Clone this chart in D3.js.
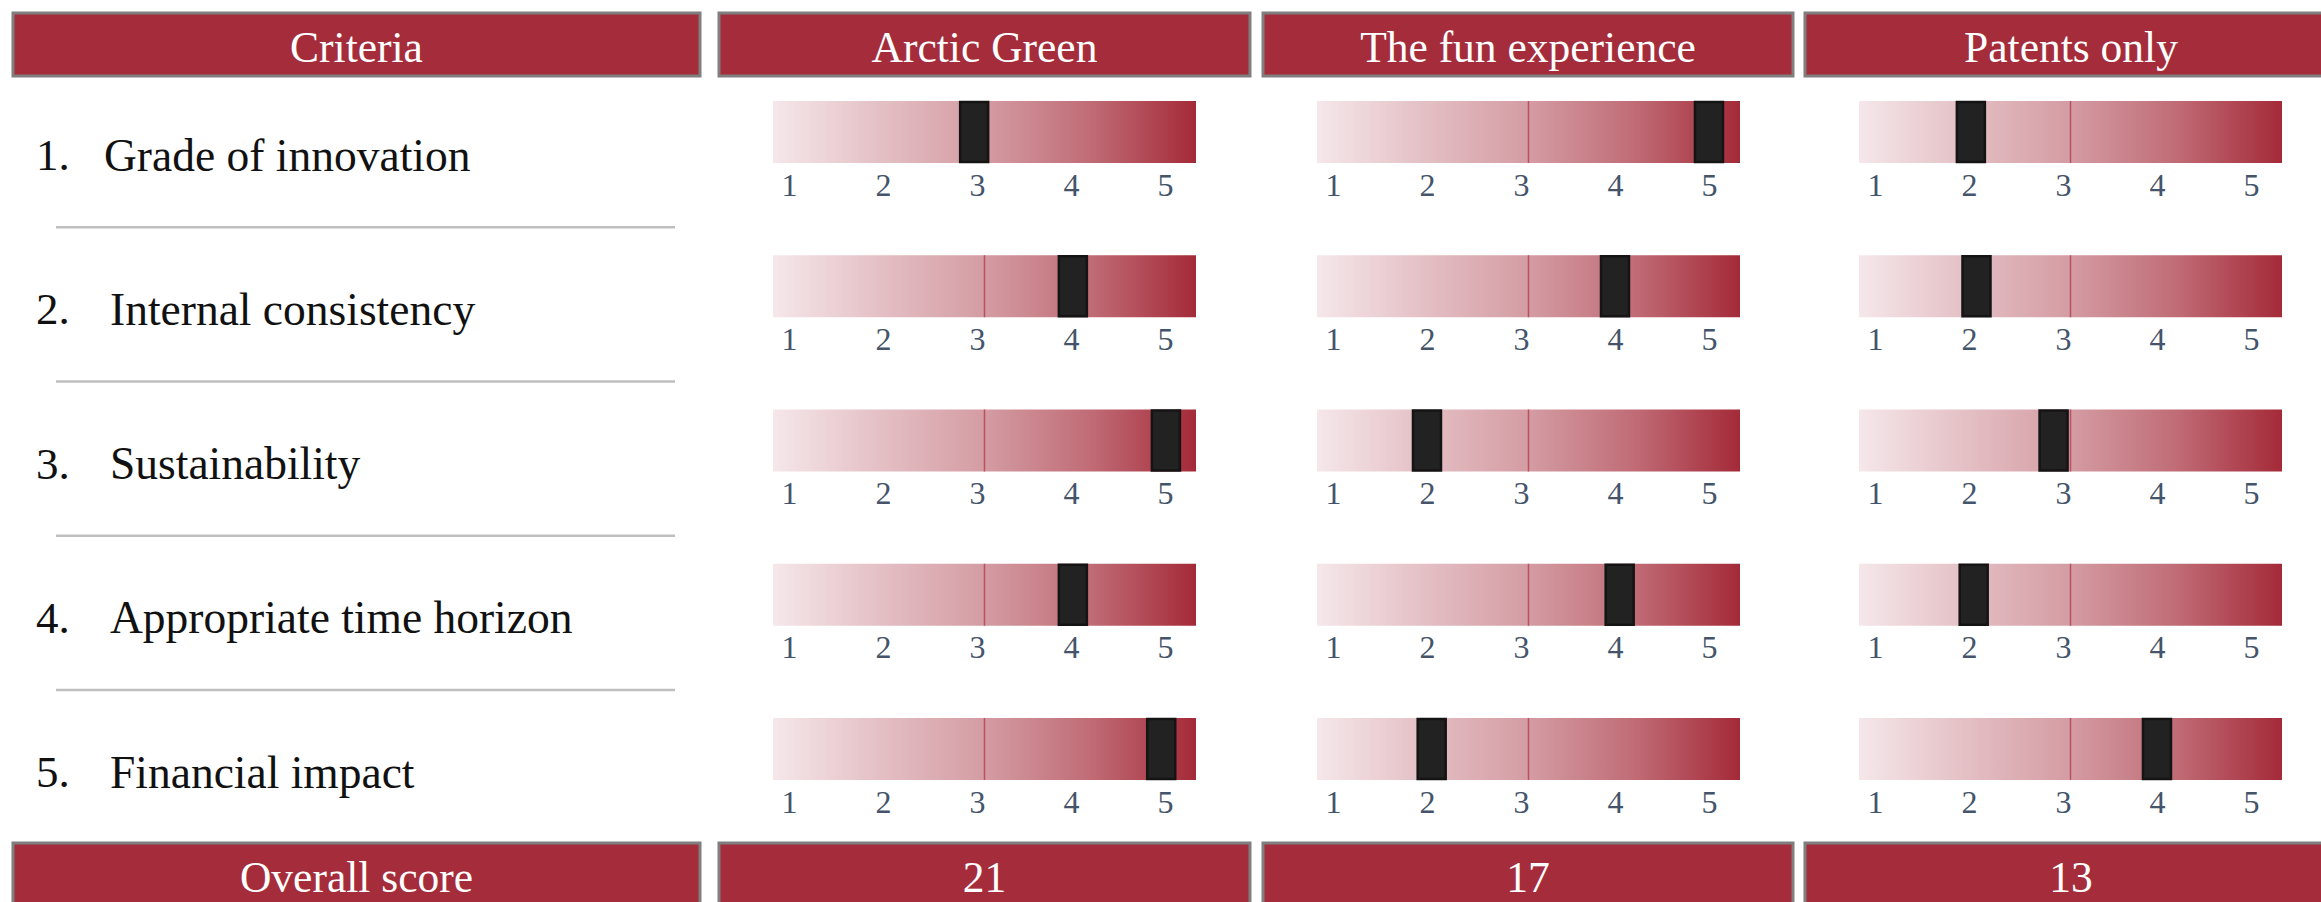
<!DOCTYPE html>
<html>
<head>
<meta charset="utf-8">
<script src="https://cdn.jsdelivr.net/npm/d3@7"></script>
<style>
  html, body { margin: 0; padding: 0; background: #ffffff; }
  svg { display: block; }
</style>
</head>
<body>
<svg id="chart" width="2321" height="902"></svg>
<script>
// ---------- data ----------
const headerLabel = "Criteria";
const footerLabel = "Overall score";
const criteria = ["Grade of innovation", "Internal consistency", "Sustainability", "Appropriate time horizon", "Financial impact"];
const options = ["Arctic Green", "The fun experience", "Patents only"];
const arcticGreen = [2.97, 4.02, 5.01, 4.02, 4.96];
const funExperience = [5.0, 4.0, 2.0, 4.05, 2.05];
const patentsOnly = [2.02, 2.08, 2.9, 2.05, 4.0];
const overallScores = [21, 17, 13];
const tickValues = [1, 2, 3, 4, 5];
const gaugeDomain = [0.83, 5.33];

const seriesValues = [arcticGreen, funExperience, patentsOnly];

// ---------- styling / layout ----------
const W = 2321, H = 902;
const RED = "#A52D3B";
const BORDER = "#7F7F7F";
const FONT = "'Liberation Serif', 'DejaVu Serif', serif";

const svg = d3.select("#chart");

// gradient
const defs = svg.append("defs");
const grad = defs.append("linearGradient").attr("id", "gaugeGrad")
  .attr("x1", "0%").attr("x2", "100%").attr("y1", "0%").attr("y2", "0%");
[[0, "#F5E7EA"], [0.25, "#E4C0C5"], [0.5, "#D49CA3"], [0.75, "#C06C76"], [1, "#A42A38"]]
  .forEach(([o, c]) => grad.append("stop").attr("offset", o).attr("stop-color", c));

// column boxes
const columns = [
  { x0: 13, x1: 700 },
  { x0: 719, x1: 1250 },
  { x0: 1263, x1: 1793 },
  { x0: 1805, x1: 2337 }
];
const headerTop = 13, headerH = 63;
const footerTop = 843;

const topLabels = [headerLabel, ...options];
const bottomLabels = [footerLabel, ...overallScores.map(String)];

function drawBoxes(labels, top, cls) {
  const g = svg.append("g").attr("class", cls);
  const cells = g.selectAll("g").data(labels).join("g");
  cells.append("rect")
    .attr("x", (d, i) => columns[i].x0)
    .attr("y", top)
    .attr("width", (d, i) => columns[i].x1 - columns[i].x0)
    .attr("height", headerH)
    .attr("fill", RED)
    .attr("stroke", BORDER)
    .attr("stroke-width", 3);
  cells.append("text")
    .attr("x", (d, i) => (columns[i].x0 + columns[i].x1) / 2)
    .attr("y", top + headerH / 2 + 2)
    .attr("text-anchor", "middle")
    .attr("dominant-baseline", "central")
    .attr("fill", "#ffffff")
    .style("font-family", FONT)
    .style("font-size", "43.5px")
    .text(d => d);
}
drawBoxes(topLabels, headerTop, "headers");
drawBoxes(bottomLabels, footerTop, "footers");

// row positions
const rowY = d3.scalePoint().domain(criteria).range([101, 718]);
const barH = 62;

// left criteria column
const left = svg.append("g").attr("class", "criteria");
left.selectAll("text.num").data(criteria).join("text")
  .attr("class", "num")
  .attr("x", 36)
  .attr("y", d => rowY(d) + 54)
  .attr("dominant-baseline", "central")
  .attr("fill", "#111")
  .style("font-family", FONT)
  .style("font-size", "45px")
  .text((d, i) => (i + 1) + ".");
left.selectAll("text.lab").data(criteria).join("text")
  .attr("class", "lab")
  .attr("x", (d, i) => i === 0 ? 104 : 110)
  .attr("y", d => rowY(d) + 54)
  .attr("dominant-baseline", "central")
  .attr("fill", "#111")
  .style("font-family", FONT)
  .style("font-size", "45.5px")
  .text(d => d);

// separators between rows
const seps = criteria.slice(0, -1).map((d, i) => (rowY(d) + rowY(criteria[i + 1])) / 2 + 54 - 5);
left.selectAll("line").data(seps).join("line")
  .attr("x1", 56).attr("x2", 675)
  .attr("y1", d => d).attr("y2", d => d)
  .attr("stroke", "#BFBFBF").attr("stroke-width", 2.5);

// gauges
const barInset = 54, barW = 423;
seriesValues.forEach((vals, ci) => {
  const col = columns[ci + 1];
  const bx = col.x0 + barInset;
  const x = d3.scaleLinear().domain(gaugeDomain).range([bx, bx + barW]);
  const g = svg.append("g").attr("class", "gauge-col");

  const rows = g.selectAll("g.row").data(criteria).join("g").attr("class", "row")
    .attr("transform", d => `translate(0,${rowY(d)})`);

  rows.append("rect")
    .attr("x", x(gaugeDomain[0]))
    .attr("y", 0)
    .attr("width", x(gaugeDomain[1]) - x(gaugeDomain[0]))
    .attr("height", barH)
    .attr("fill", "url(#gaugeGrad)");

  const mid = (gaugeDomain[0] + gaugeDomain[1]) / 2;
  rows.append("line")
    .attr("x1", x(mid)).attr("x2", x(mid))
    .attr("y1", 0).attr("y2", barH)
    .attr("stroke", "#B9525E").attr("stroke-width", 1.5);

  rows.append("rect")
    .attr("x", (d, i) => x(vals[i]) - 14)
    .attr("y", 1)
    .attr("width", 28)
    .attr("height", barH - 2)
    .attr("fill", "#222222")
    .attr("stroke", "#141414")
    .attr("stroke-width", 2.5);

  // axis with tick labels
  rows.append("g")
    .attr("transform", `translate(0,${barH})`)
    .call(d3.axisBottom(x).tickValues(tickValues).tickFormat(d3.format("d")).tickSize(0).tickPadding(10))
    .call(a => a.select(".domain").remove())
    .call(a => a.selectAll("text")
      .attr("fill", "#44546A")
      .style("font-family", FONT)
      .style("font-size", "32px"));
});
</script>
</body>
</html>
